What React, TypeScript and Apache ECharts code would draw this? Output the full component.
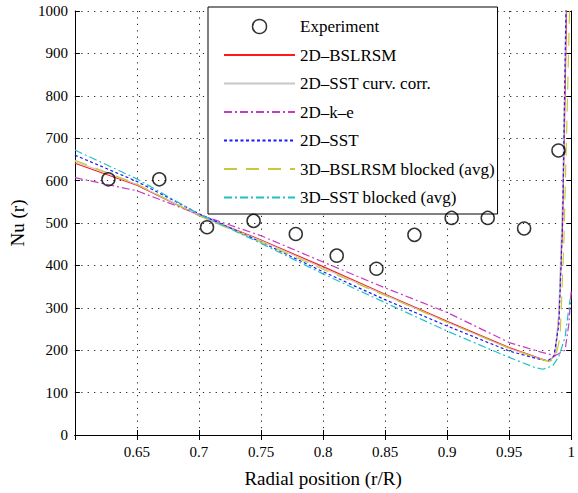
import React, { useEffect, useRef } from "react";
import * as echarts from "echarts";

const FONT = "'Liberation Serif', 'Times New Roman', serif";

const expX = [0.627, 0.668, 0.7065, 0.744, 0.778, 0.811, 0.843, 0.8736, 0.9036, 0.9327, 0.962, 0.9897];
const expY = [603, 603, 490, 505, 474, 423, 392, 472, 512, 512, 487, 671];

const bslX = [0.6, 0.65, 0.7, 0.75, 0.8, 0.85, 0.9, 0.95, 0.975, 0.982, 0.987, 0.99, 0.993, 0.995, 0.9965];
const bslY = [641, 589, 518, 460, 397, 332, 268, 206, 180, 174, 188, 280, 500, 800, 1050];

const curvX = [0.6, 0.65, 0.7, 0.75, 0.8, 0.85, 0.9, 0.95, 0.975, 0.982, 0.987, 0.99, 0.993, 0.996];
const curvY = [645, 591, 518, 458, 394, 330, 266, 204, 179, 175, 186, 290, 560, 1050];

const keX = [0.6, 0.65, 0.7, 0.75, 0.8, 0.85, 0.9, 0.95, 0.975, 0.987, 0.995, 0.998, 1.0];
const keY = [607, 576, 520, 470, 408, 347, 289, 218, 196, 187, 200, 260, 340];

const sstX = [0.6, 0.65, 0.7, 0.75, 0.8, 0.85, 0.9, 0.95, 0.975, 0.981, 0.986, 0.99, 0.993, 0.996];
const sstY = [660, 598, 522, 455, 385, 319, 257, 198, 178, 175, 186, 260, 500, 1050];

const bsl3X = [0.6, 0.65, 0.7, 0.75, 0.8, 0.85, 0.9, 0.95, 0.975, 0.982, 0.987, 0.991, 0.994, 0.997, 0.999];
const bsl3Y = [648, 592, 517, 455, 391, 329, 266, 205, 179, 173, 180, 230, 450, 800, 1050];

const sst3X = [0.6, 0.65, 0.7, 0.75, 0.8, 0.85, 0.9, 0.95, 0.97, 0.977, 0.985, 0.99, 0.995, 0.999];
const sst3Y = [672, 604, 521, 452, 380, 312, 245, 183, 160, 155, 163, 185, 230, 320];

const xTicks = [0.65, 0.7, 0.75, 0.8, 0.85, 0.9, 0.95, 1];

const zip = (xs: number[], ys: number[]) => xs.map((x, i) => [x, ys[i]]);

export default function App() {
  const ref = useRef<HTMLDivElement>(null);
  useEffect(() => {
    const chart = echarts.init(ref.current!, null, { renderer: "svg" });
    const lineSeries = (name: string, xs: number[], ys: number[], color: string, type: any, width = 1.2) => ({
      name,
      type: "line",
      data: zip(xs, ys),
      symbol: "none",
      smooth: false,
      lineStyle: { color, width, type },
      itemStyle: { color },
      z: 3,
    });
    const axisCommon = {
      axisLine: { show: true, lineStyle: { color: "#000", width: 1 } },
      axisTick: { show: true, inside: true, length: 5, lineStyle: { color: "#000" } },
    };
    const hidden = { color: "transparent", borderWidth: 0, opacity: 0 };
    chart.setOption({
      animation: false,
      backgroundColor: "#fff",
      textStyle: { fontFamily: FONT },
      grid: { left: 66, right: 5, top: 11, bottom: 53, containLabel: false },
      legend: {
        orient: "vertical",
        left: 208,
        top: 7,
        padding: [11, 3, 8, 15],
        itemWidth: 71,
        itemHeight: 14,
        itemGap: 11.5,
        backgroundColor: "#fff",
        borderColor: "#000",
        borderWidth: 1,
        borderRadius: 0,
        textStyle: { fontFamily: FONT, fontSize: 17, color: "#000" },
        data: [
          { name: "Experiment", icon: "circle", itemStyle: { color: "transparent", borderColor: "#000", borderWidth: 1.5 } },
          { name: "2D–BSLRSM", itemStyle: hidden },
          { name: "2D–SST curv. corr.", itemStyle: hidden },
          { name: "2D–k–e", itemStyle: hidden },
          { name: "2D–SST", itemStyle: hidden },
          { name: "3D–BSLRSM blocked (avg)", itemStyle: hidden },
          { name: "3D–SST blocked (avg)", itemStyle: hidden },
        ],
      },
      xAxis: [
        {
          type: "value",
          min: 0.6,
          max: 1,
          interval: 0.05,
          ...axisCommon,
          axisLabel: {
            fontFamily: FONT,
            fontSize: 15,
            color: "#000",
            margin: 9,
            formatter: (v: number) => (xTicks.some((t) => Math.abs(t - v) < 1e-6) ? String(+v.toFixed(2)) : ""),
          },
          splitLine: { show: true, lineStyle: { color: "#222", width: 1, type: [1.2, 5.2] } },
          name: "Radial position (r/R)",
          nameLocation: "middle",
          nameGap: 34,
          nameTextStyle: { fontFamily: FONT, fontSize: 19, color: "#000" },
        },
        {
          type: "value",
          position: "top",
          min: 0.6,
          max: 1,
          interval: 0.05,
          ...axisCommon,
          axisLabel: { show: false },
          splitLine: { show: false },
        },
      ],
      yAxis: [
        {
          type: "value",
          min: 0,
          max: 1000,
          interval: 100,
          ...axisCommon,
          axisLabel: { fontFamily: FONT, fontSize: 15, color: "#000", margin: 7, formatter: (v: number) => String(v) },
          splitLine: { show: true, lineStyle: { color: "#222", width: 1, type: [1.2, 5.2] } },
          name: "Nu (r)",
          nameLocation: "middle",
          nameGap: 40,
          nameTextStyle: { fontFamily: FONT, fontSize: 19, color: "#000" },
        },
        {
          type: "value",
          position: "right",
          min: 0,
          max: 1000,
          interval: 100,
          ...axisCommon,
          axisLabel: { show: false },
          splitLine: { show: false },
        },
      ],
      series: [
        {
          name: "Experiment",
          type: "scatter",
          data: zip(expX, expY),
          symbol: "circle",
          symbolSize: 13,
          itemStyle: { color: "transparent", borderColor: "#000", borderWidth: 1.5 },
          z: 5,
        },
        lineSeries("2D–BSLRSM", bslX, bslY, "#ff1a1a", "solid"),
        lineSeries("2D–SST curv. corr.", curvX, curvY, "#c8c8c8", "solid"),
        lineSeries("2D–k–e", keX, keY, "#c43cc4", [8, 3, 2, 3]),
        lineSeries("2D–SST", sstX, sstY, "#1a1aff", [3, 2.5]),
        lineSeries("3D–BSLRSM blocked (avg)", bsl3X, bsl3Y, "#c8c83c", [13, 9]),
        lineSeries("3D–SST blocked (avg)", sst3X, sst3Y, "#1fc0c8", [8, 3, 2, 3]),
      ],
    });
    return () => chart.dispose();
  }, []);
  return <div ref={ref} style={{ position: "absolute", left: 0, top: 0, width: 578, height: 493 }} />;
}
